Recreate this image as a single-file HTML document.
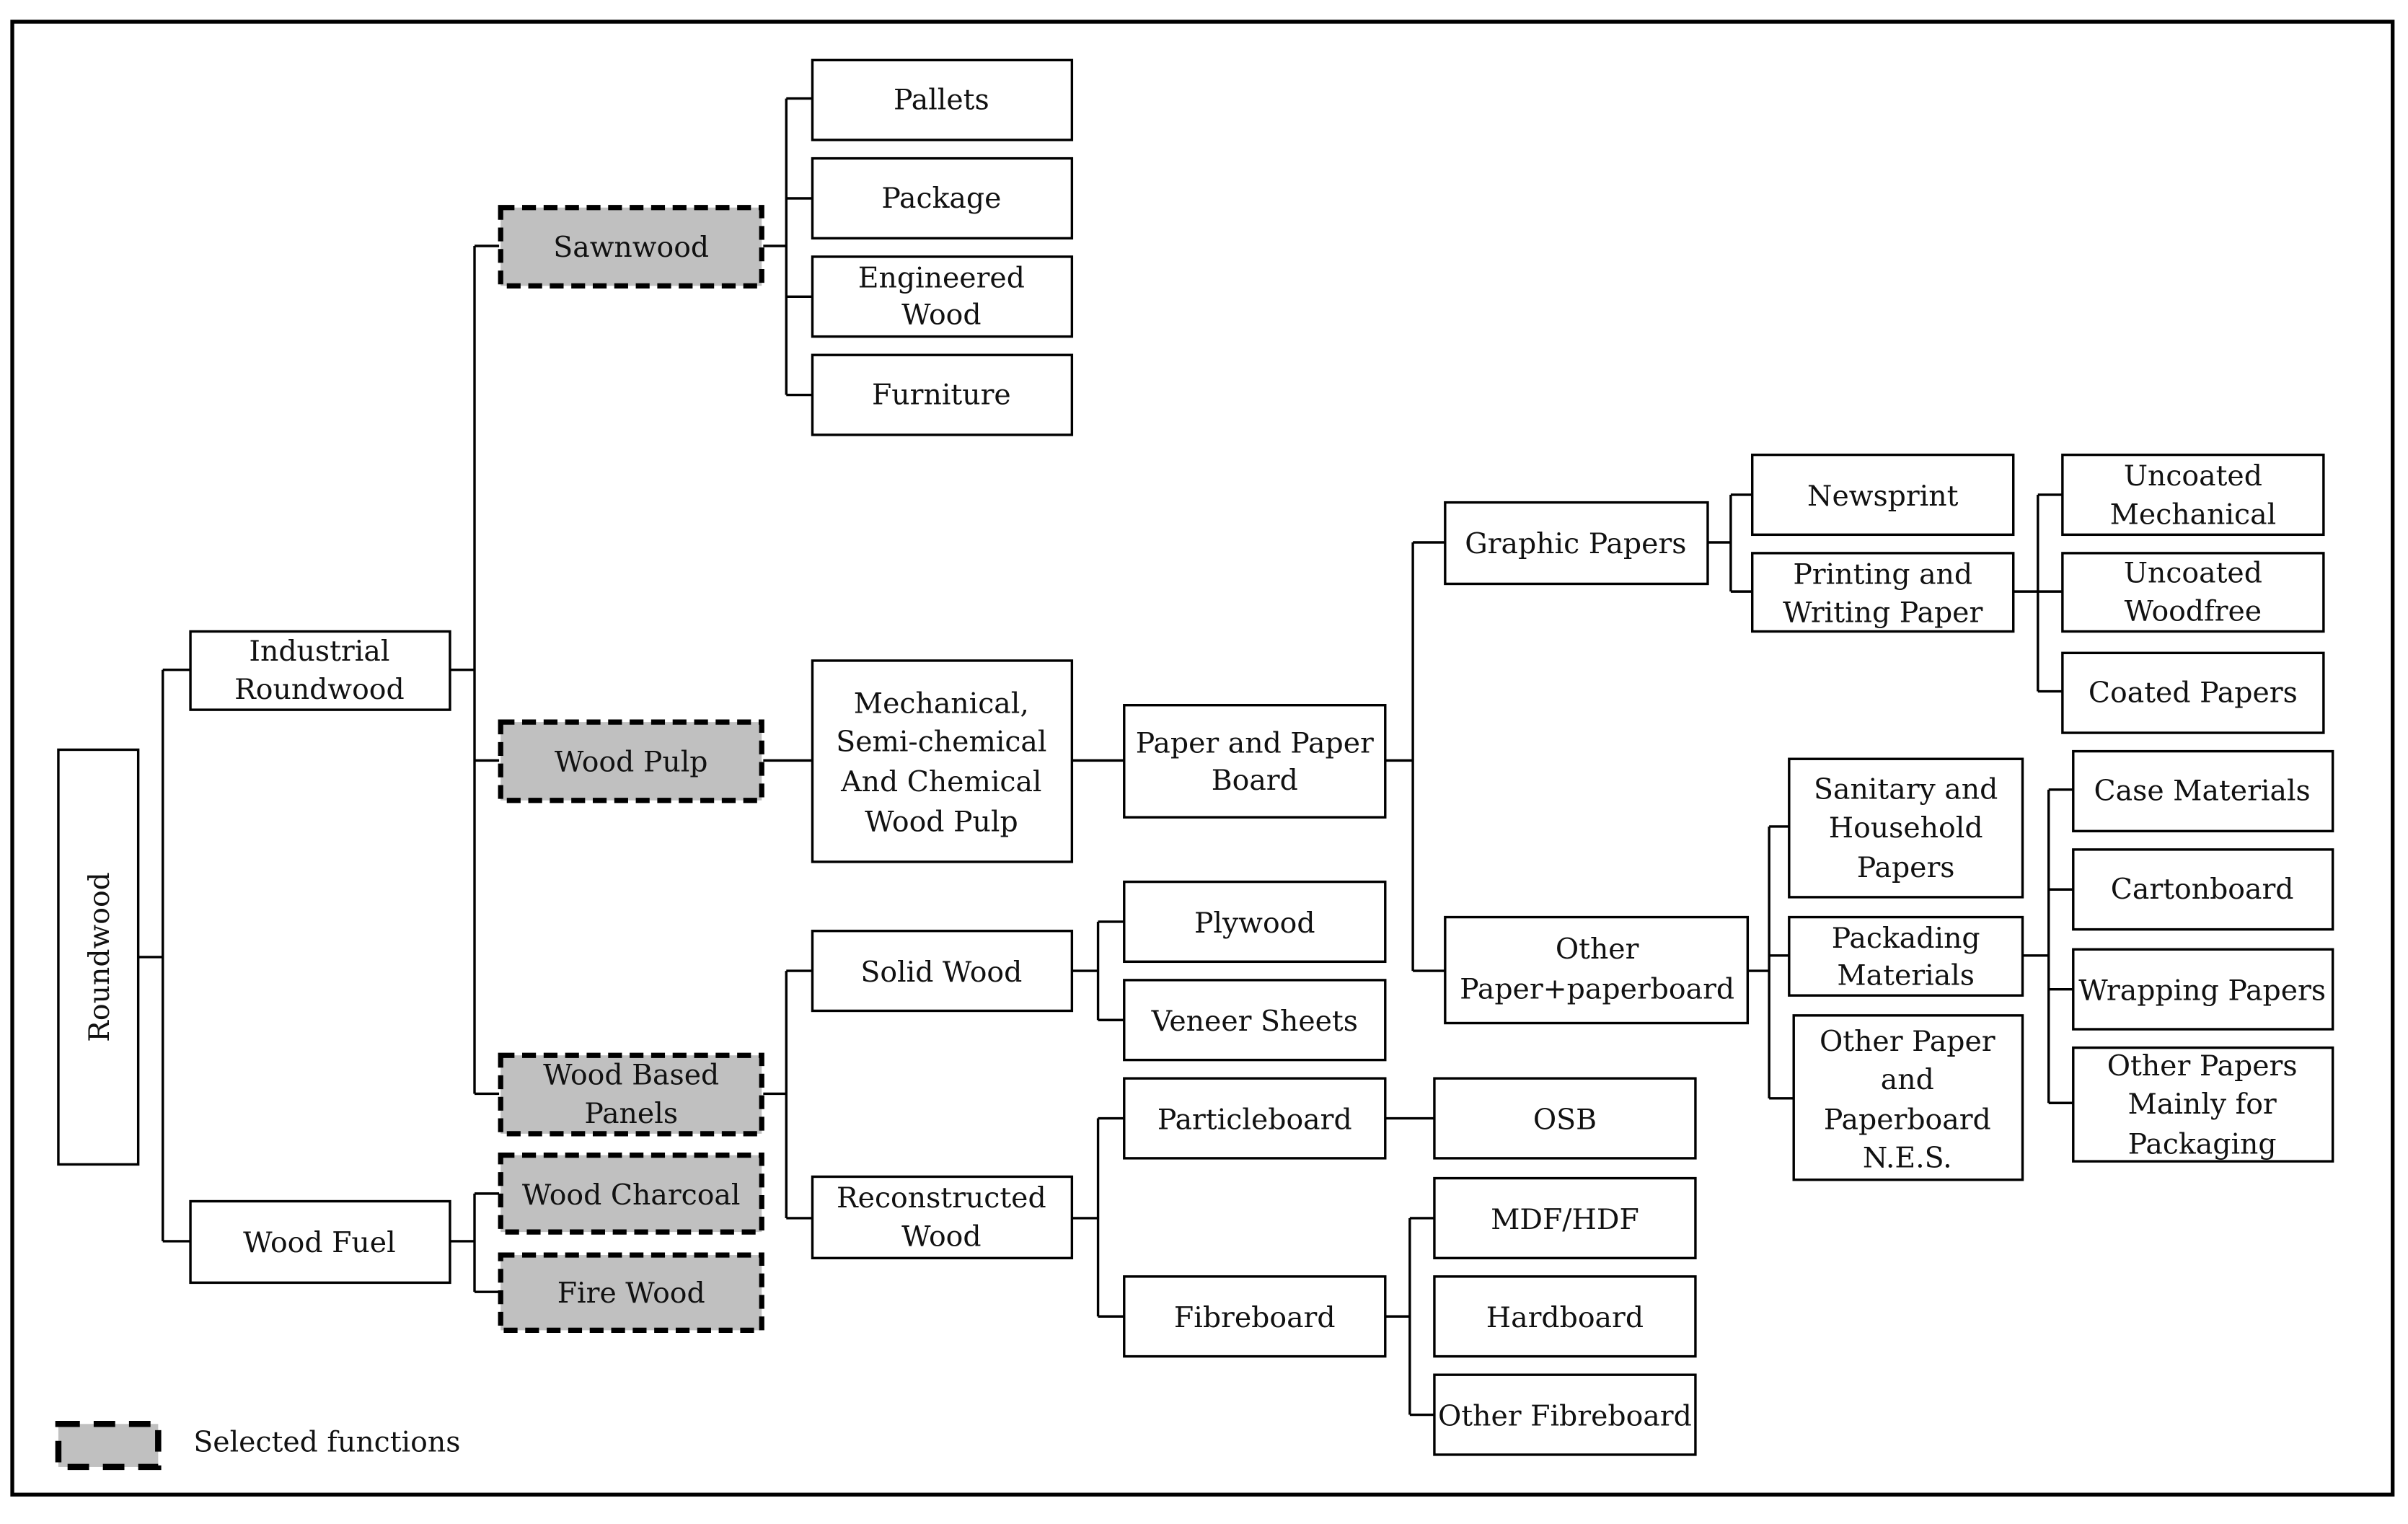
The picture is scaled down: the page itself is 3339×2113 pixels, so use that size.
<!DOCTYPE html>
<html><head><meta charset="utf-8"><style>html,body{margin:0;padding:0;background:#fff}svg{display:block}</style></head>
<body>
<svg width="3339" height="2113" viewBox="0 0 1568 992" xmlns="http://www.w3.org/2000/svg" font-family="DejaVu Serif, Liberation Serif, serif" font-size="18.5" fill="#111">
<rect x="8" y="14" width="1550" height="959" fill="none" stroke="#000" stroke-width="2.5"/>
<g fill="none" stroke="#000" stroke-width="1.6">
<path d="M90 623H106M106 436V808M106 436H124M106 808H124"/>
<path d="M293 436H309M309 160V712M309 160H325M309 495H325M309 712H325"/>
<path d="M293 808H309M309 777V841M309 777H325M309 841H325"/>
<path d="M497 160H512M512 64V257M512 64H529M512 129H529M512 193H529M512 257H529"/>
<path d="M497 495H529M698 495H732"/>
<path d="M902 495H920M920 353V632M920 353H941M920 632H941"/>
<path d="M1112 353H1127M1127 322V385M1127 322H1141M1127 385H1141"/>
<path d="M1311 385H1327M1327 322V450M1327 322H1343M1327 385H1343M1327 450H1343"/>
<path d="M1138 632H1152M1152 538V715M1152 538H1165M1152 622H1165M1152 715H1168"/>
<path d="M1317 622H1334M1334 514V718M1334 514H1350M1334 579H1350M1334 644H1350M1334 718H1350"/>
<path d="M497 712H512M512 632V793M512 632H529M512 793H529"/>
<path d="M698 632H715M715 600V664M715 600H732M715 664H732"/>
<path d="M698 793H715M715 728V857M715 728H732M715 857H732"/>
<path d="M902 728H934"/>
<path d="M902 857H918M918 793V921M918 793H934M918 921H934"/>
</g>
<g fill="#fff" stroke="#000" stroke-width="1.6">
<rect x="38" y="488" width="52" height="270"/>
<rect x="124" y="411" width="169" height="51"/>
<rect x="124" y="782" width="169" height="53"/>
<rect x="529" y="39" width="169" height="52"/>
<rect x="529" y="103" width="169" height="52"/>
<rect x="529" y="167" width="169" height="52"/>
<rect x="529" y="231" width="169" height="52"/>
<rect x="529" y="430" width="169" height="131"/>
<rect x="732" y="459" width="170" height="73"/>
<rect x="941" y="327" width="171" height="53"/>
<rect x="941" y="597" width="197" height="69"/>
<rect x="1141" y="296" width="170" height="52"/>
<rect x="1141" y="360" width="170" height="51"/>
<rect x="1343" y="296" width="170" height="52"/>
<rect x="1343" y="360" width="170" height="51"/>
<rect x="1343" y="425" width="170" height="52"/>
<rect x="1165" y="494" width="152" height="90"/>
<rect x="1165" y="597" width="152" height="51"/>
<rect x="1168" y="661" width="149" height="107"/>
<rect x="1350" y="489" width="169" height="52"/>
<rect x="1350" y="553" width="169" height="52"/>
<rect x="1350" y="618" width="169" height="52"/>
<rect x="1350" y="682" width="169" height="74"/>
<rect x="529" y="606" width="169" height="52"/>
<rect x="529" y="766" width="169" height="53"/>
<rect x="732" y="574" width="170" height="52"/>
<rect x="732" y="638" width="170" height="52"/>
<rect x="732" y="702" width="170" height="52"/>
<rect x="732" y="831" width="170" height="52"/>
<rect x="934" y="702" width="170" height="52"/>
<rect x="934" y="767" width="170" height="52"/>
<rect x="934" y="831" width="170" height="52"/>
<rect x="934" y="895" width="170" height="52"/>
</g>
<g fill="#c0c0c0" stroke="#000" stroke-width="3.4" stroke-dasharray="9,5">
<rect x="326" y="135" width="170" height="51"/>
<rect x="326" y="470" width="170" height="51"/>
<rect x="326" y="687" width="170" height="51"/>
<rect x="326" y="752" width="170" height="50"/>
<rect x="326" y="817" width="170" height="49"/>
<rect x="38" y="927" width="65" height="28" stroke-width="4" stroke-dasharray="14,9"/>
</g>
<g text-anchor="middle">
<text transform="translate(71 623) rotate(-90)">Roundwood</text>
<text x="208" y="430">Industrial</text><text x="208" y="455">Roundwood</text>
<text x="208" y="815">Wood Fuel</text>
<text x="411" y="167">Sawnwood</text>
<text x="411" y="502">Wood Pulp</text>
<text x="411" y="706">Wood Based</text><text x="411" y="731">Panels</text>
<text x="411" y="784">Wood Charcoal</text>
<text x="411" y="848">Fire Wood</text>
<text x="613" y="71">Pallets</text>
<text x="613" y="135">Package</text>
<text x="613" y="187">Engineered</text><text x="613" y="211">Wood</text>
<text x="613" y="263">Furniture</text>
<text x="613" y="464">Mechanical,</text><text x="613" y="489">Semi-chemical</text><text x="613" y="515">And Chemical</text><text x="613" y="541">Wood Pulp</text>
<text x="817" y="490">Paper and Paper</text><text x="817" y="514">Board</text>
<text x="1026" y="360">Graphic Papers</text>
<text x="1040" y="624">Other</text><text x="1040" y="650">Paper+paperboard</text>
<text x="1226" y="329">Newsprint</text>
<text x="1226" y="380">Printing and</text><text x="1226" y="405">Writing Paper</text>
<text x="1428" y="316">Uncoated</text><text x="1428" y="341">Mechanical</text>
<text x="1428" y="379">Uncoated</text><text x="1428" y="404">Woodfree</text>
<text x="1428" y="457">Coated Papers</text>
<text x="1241" y="520">Sanitary and</text><text x="1241" y="545">Household</text><text x="1241" y="571">Papers</text>
<text x="1241" y="617">Packading</text><text x="1241" y="641">Materials</text>
<text x="1242" y="684">Other Paper</text><text x="1242" y="709">and</text><text x="1242" y="735">Paperboard</text><text x="1242" y="760">N.E.S.</text>
<text x="1434" y="521">Case Materials</text>
<text x="1434" y="585">Cartonboard</text>
<text x="1434" y="651">Wrapping Papers</text>
<text x="1434" y="700">Other Papers</text><text x="1434" y="725">Mainly for</text><text x="1434" y="751">Packaging</text>
<text x="613" y="639">Solid Wood</text>
<text x="613" y="786">Reconstructed</text><text x="613" y="811">Wood</text>
<text x="817" y="607">Plywood</text>
<text x="817" y="671">Veneer Sheets</text>
<text x="817" y="735">Particleboard</text>
<text x="817" y="864">Fibreboard</text>
<text x="1019" y="735">OSB</text>
<text x="1019" y="800">MDF/HDF</text>
<text x="1019" y="864">Hardboard</text>
<text x="1019" y="928">Other Fibreboard</text>
</g>
<text x="126" y="945">Selected functions</text>
</svg>
</body></html>
